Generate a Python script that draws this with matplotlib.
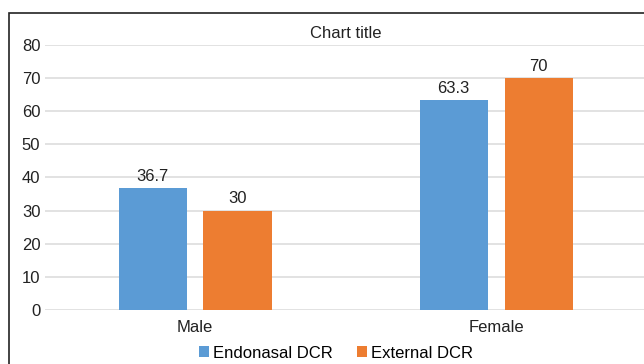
import matplotlib
matplotlib.use("Agg")
import matplotlib.pyplot as plt
import numpy as np
from matplotlib.patches import Rectangle

plt.rcParams['font.family'] = ['Liberation Sans', 'DejaVu Sans']

# data
categories = ['Male', 'Female']
series_names = ['Endonasal DCR', 'External DCR']
endonasal = [36.7, 63.3]
external = [30, 70]
value_labels = [['36.7', '63.3'], ['30', '70']]
colors = ['#5B9BD5', '#ED7D31']

fig = plt.figure(figsize=(6.44, 3.64), dpi=100)
ax = fig.add_axes([0.0691, 0.1484, 0.935, 0.728])

x = np.arange(len(categories))
width = 0.226
offset = 0.141
for i, (vals, name) in enumerate(zip([endonasal, external], series_names)):
    pos = x + (offset if i else -offset)
    bars = ax.bar(pos, vals, width, color=colors[i], label=name, zorder=3)
    for b, lab in zip(bars, value_labels[i]):
        ax.annotate(lab, (b.get_x() + b.get_width() / 2, b.get_height()),
                    xytext=(0, 3), textcoords='offset points',
                    ha='center', va='bottom', fontsize=12, color='#222222')

ax.set_xlim(-0.5, 1.5)
ax.set_ylim(0, 80)
ax.set_yticks(range(0, 81, 10))
ax.set_xticks(x)
ax.set_xticklabels(categories)
ax.tick_params(axis='both', length=0, labelsize=12, colors='#222222')
ax.tick_params(axis='x', pad=7)
ax.tick_params(axis='y', pad=3)
ax.grid(axis='y', color='#DDDDDD', linewidth=1.2, zorder=0)
for s in ax.spines.values():
    s.set_visible(False)

ax.set_title('Chart title', fontsize=12, color='#222222', pad=5)

fig.legend(loc='center', bbox_to_anchor=(336 / 644, 1 - 353 / 364), ncol=2,
           frameon=False, fontsize=12, handlelength=0.6, handleheight=0.6,
           handletextpad=0.2, columnspacing=1.5, borderaxespad=0)

# outer chart border (cropped on right and bottom)
fig.patches.append(Rectangle((9 / 644, -0.2), 1.2, 1.2 - 13 / 364,
                             transform=fig.transFigure, fill=False,
                             edgecolor='#222222', linewidth=1.2))

fig.savefig('out.png', dpi=100)
